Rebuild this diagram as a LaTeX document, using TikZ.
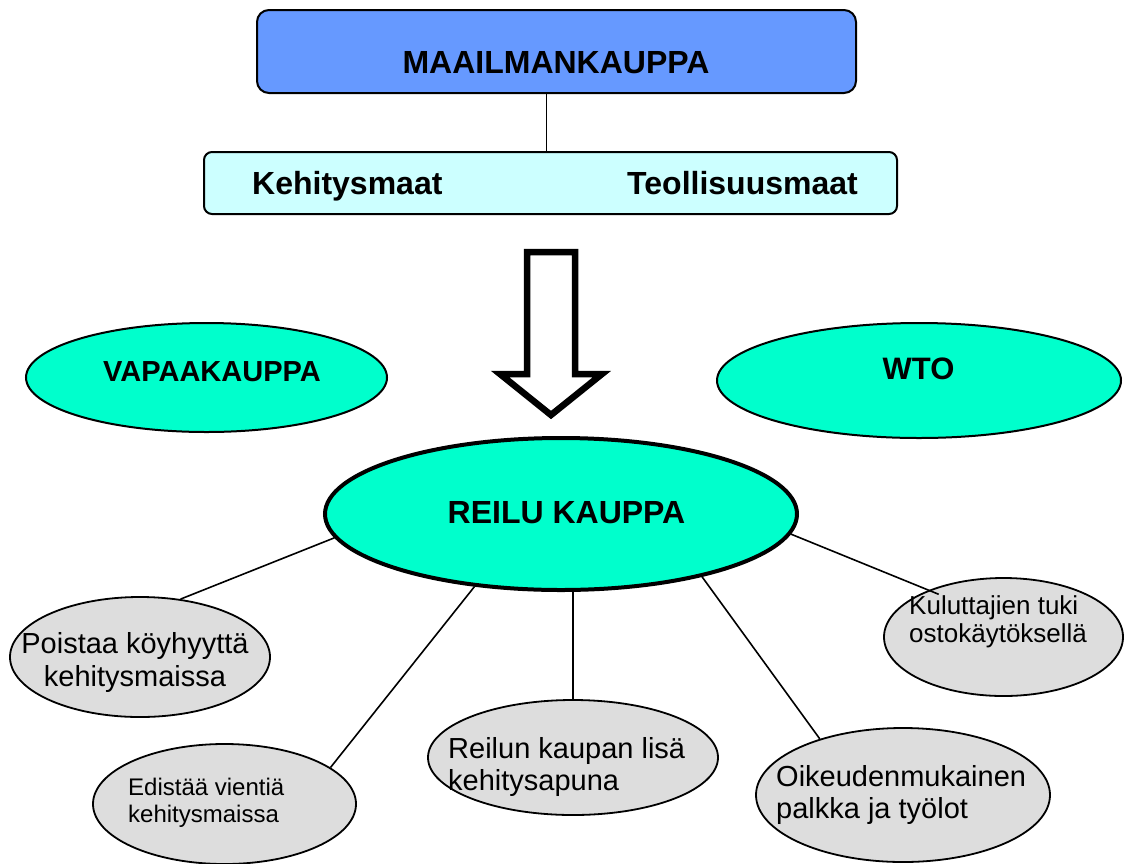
\documentclass[tikz,border=0pt]{standalone}
\usepackage{fontspec}
\setmainfont{Liberation Sans}
\usetikzlibrary{shapes.geometric}

\definecolor{kauppablue}{RGB}{102,153,255}
\definecolor{kauppacyan}{RGB}{204,255,255}
\definecolor{kauppagreen}{RGB}{0,255,204}
\definecolor{kauppagrey}{RGB}{221,221,221}

\tikzset{
	topbox/.style={draw, fill=kauppablue, rounded corners=12pt, line width=2pt, inner sep=0pt},
	subbox/.style={draw, fill=kauppacyan, rounded corners=8pt, line width=2pt, inner sep=0pt},
	greenell/.style={ellipse, draw, fill=kauppagreen, line width=2pt, inner sep=0pt},
	greyell/.style={ellipse, draw, fill=kauppagrey, line width=1.8pt, inner sep=0pt},
	boldtxt/.style={font=\fontsize{#1}{#1}\selectfont\bfseries, inner sep=0pt, anchor=base},
	plaintxt/.style 2 args={font=\fontsize{#1}{#2}\selectfont, inner sep=0pt, align=left, anchor=north west},
	link/.style={line width=1.6pt},
	blockarrow/.style={line width=6.5pt, fill=white, line join=miter}
}

\begin{document}
\begin{tikzpicture}[x=1pt, y=-1pt]
	\useasboundingbox (0,0) rectangle (1127,863);

	% top part
	\node[topbox, minimum width=599pt, minimum height=83pt] (maailma) at (556.5,51.5) {};
	\node[subbox, minimum width=693pt, minimum height=62pt] (maat) at (550.5,183) {};
	\draw[line width=1.3pt] ([xshift=-10pt]maailma.south) -- ([xshift=-10pt]maailma.south |- maat.north);
	\node[boldtxt=32] (maailmaT) at (556,73) {MAAILMANKAUPPA};
	\node[boldtxt=32, anchor=base west] (kehitysT) at (252,194) {Kehitysmaat};
	\node[boldtxt=32, anchor=base east] (teollT) at (858,194) {Teollisuusmaat};

	\draw[blockarrow] (527,252) -- (575,252) -- (575,374) -- (602,374) -- (551,415) -- (500,374) -- (527,374) -- cycle;

	% middle ellipses
	\node[greenell, minimum width=361pt, minimum height=109pt] (vapaa) at (206.5,377.5) {};
	\node[greenell, minimum width=404pt, minimum height=115pt] (wto) at (919,380.5) {};
	\node[greenell, line width=4pt, minimum width=472pt, minimum height=152pt] (reilu) at (561,514) {};
	\node[boldtxt=29] (vapaaT) at (212,381) {VAPAAKAUPPA};
	\node[boldtxt=31] (wtoT) at (918.5,379) {WTO};
	\node[boldtxt=32] (reiluT) at (566.5,523) {REILU KAUPPA};

	% grey ellipses
	\node[greyell, minimum width=260pt, minimum height=120pt] (poistaa) at (140,657) {};
	\node[greyell, minimum width=263pt, minimum height=120pt] (edistaa) at (224.5,804) {};
	\node[greyell, minimum width=290pt, minimum height=115pt] (lisa) at (573,757.5) {};
	\node[greyell, minimum width=294pt, minimum height=134pt] (palkka) at (903,795) {};
	\node[greyell, minimum width=239pt, minimum height=118pt] (kuluttaja) at (1003.5,637) {};

	\draw[link] (reilu.186) -- (poistaa.55);
	\draw[link] (reilu.220) -- (edistaa.19);
	\draw[link] (reilu.south -| lisa.north) -- (lisa.north);
	\draw[link] (reilu.336) -- (palkka.146);
	\draw[link, shorten >=-11pt] (reilu.355) -- (kuluttaja.148);

	\node[plaintxt={29}{33}, align=center, anchor=north] (poistaaT) at (135,632) {Poistaa köyhyyttä\\kehitysmaissa};
	\node[plaintxt={24}{27}] (edistaaT) at (128,778) {Edistää vientiä\\kehitysmaissa};
	\node[plaintxt={29}{32}] (lisaT) at (448,737) {Reilun kaupan lisä\\kehitysapuna};
	\node[plaintxt={29}{32}] (palkkaT) at (776,765) {Oikeudenmukainen\\palkka ja työlot};
	\node[plaintxt={26}{28}] (kuluttajaT) at (909,595) {Kuluttajien tuki\\ostokäytöksellä};
\end{tikzpicture}
\end{document}
